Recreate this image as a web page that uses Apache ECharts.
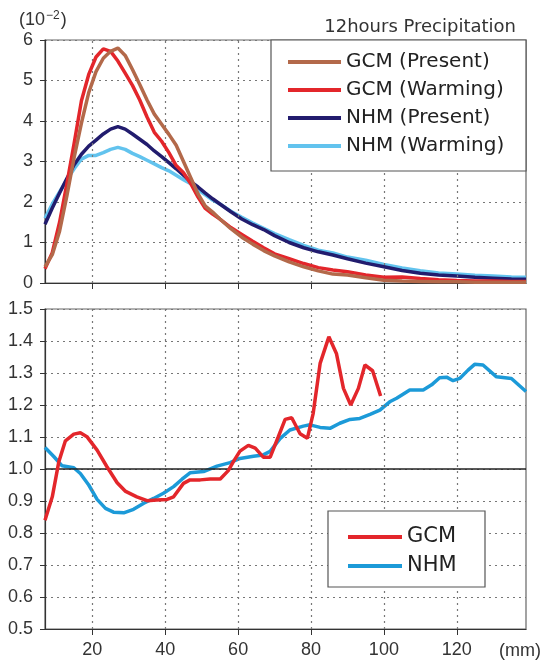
<!DOCTYPE html>
<html>
<head>
<meta charset="utf-8">
<script src="https://cdn.jsdelivr.net/npm/echarts@6/dist/echarts.min.js"></script>
<style>
  html, body { margin: 0; padding: 0; background: #fff; }
  #chart { width: 547px; height: 664px; }
</style>
</head>
<body>
<div id="chart"></div>
<script>
// upper panel: frequency (x10^-2) against 12h precipitation (mm)
const topX = [7, 9, 11, 13, 15, 17, 19, 21, 23, 25, 27, 29, 31, 33, 35, 37, 39, 41, 43, 45, 47, 49, 51, 53, 55,
  58, 61, 64, 67, 70, 74, 78, 82, 86, 90, 95, 100, 105, 110, 115, 120, 125, 130, 135, 139];
const gcmPresent = [0.4, 0.7, 1.28, 2.15, 3.1, 3.95, 4.7, 5.22, 5.55, 5.72, 5.8, 5.62, 5.27, 4.9, 4.52, 4.17, 3.92, 3.67, 3.4, 3.0, 2.6, 2.2, 1.9, 1.75, 1.58,
  1.34, 1.13, 0.96, 0.8, 0.67, 0.52, 0.4, 0.3, 0.22, 0.2, 0.13, 0.07, 0.05, 0.04, 0.03, 0.03, 0.02, 0.02, 0.02, 0.02];
const gcmWarming = [0.35, 0.75, 1.5, 2.45, 3.45, 4.5, 5.15, 5.58, 5.78, 5.72, 5.48, 5.18, 4.88, 4.52, 4.1, 3.72, 3.5, 3.22, 2.9, 2.72, 2.45, 2.12, 1.84, 1.7, 1.58,
  1.37, 1.2, 1.03, 0.87, 0.72, 0.6, 0.48, 0.38, 0.32, 0.28, 0.2, 0.14, 0.15, 0.11, 0.08, 0.06, 0.05, 0.05, 0.04, 0.04];
const nhmPresent = [1.45, 1.85, 2.22, 2.58, 2.92, 3.18, 3.38, 3.53, 3.68, 3.8, 3.86, 3.8, 3.68, 3.55, 3.42, 3.26, 3.12, 2.97, 2.82, 2.66, 2.5, 2.37, 2.22, 2.08, 1.95,
  1.76, 1.58, 1.44, 1.32, 1.17, 1.0, 0.87, 0.77, 0.69, 0.6, 0.49, 0.4, 0.31, 0.24, 0.2, 0.17, 0.14, 0.12, 0.1, 0.09];
const nhmWarming = [1.6, 1.95, 2.25, 2.55, 2.82, 3.06, 3.15, 3.15, 3.22, 3.3, 3.35, 3.3, 3.2, 3.12, 3.03, 2.94, 2.85, 2.77, 2.66, 2.55, 2.45, 2.3, 2.18, 2.05, 1.95,
  1.77, 1.62, 1.48, 1.35, 1.22, 1.07, 0.93, 0.81, 0.74, 0.64, 0.56, 0.46, 0.37, 0.3, 0.25, 0.22, 0.19, 0.17, 0.15, 0.14];

// lower panel: ratio warming / present
const ratioGcmX = [7, 9, 10.8, 12.6, 14.9, 16.7, 18.5, 21.3, 24, 26.8, 29, 32.2, 35, 37.7, 40.5, 42.3, 45, 46.8, 49.6, 52.3, 55.1, 57.3, 58.7,
  60.5, 62.8, 64.7, 66.9, 68.8, 71, 72.9, 74.7, 77, 79, 80.6, 82.5, 84.9, 87, 88.9, 90.9, 93, 94.8, 96.9, 99.1];
const ratioGcm = [0.84, 0.913, 1.023, 1.088, 1.109, 1.113, 1.101, 1.059, 1.007, 0.957, 0.931, 0.913, 0.901, 0.903, 0.905, 0.913, 0.955, 0.966, 0.966, 0.969, 0.969, 0.995, 1.023,
  1.056, 1.074, 1.065, 1.037, 1.037, 1.10, 1.155, 1.16, 1.11, 1.096, 1.174, 1.33, 1.413, 1.36, 1.252, 1.20, 1.252, 1.325, 1.307, 1.228];
const ratioNhmX = [7, 9.4, 11.7, 14.9, 16.7, 19, 21.3, 23.6, 25.8, 28.6, 31.3, 34.1, 36.8, 39.5, 42.3, 44.6, 46.8, 50.5, 54.2, 57.8, 60.5, 64.2, 66.9,
  68.8, 71.5, 74.2, 77.9, 79.7, 82.5, 85.2, 87.9, 90.7, 93.4, 96.2, 98.9, 101.6, 103.5, 107.1, 110.8, 113.1, 115.3, 117.2, 119, 120.8, 123.1,
  124.9, 127.2, 130.9, 135, 139];
const ratioNhm = [1.067, 1.039, 1.01, 1.004, 0.986, 0.95, 0.905, 0.877, 0.865, 0.863, 0.874, 0.893, 0.908, 0.924, 0.945, 0.968, 0.988, 0.992, 1.009, 1.02, 1.033, 1.04, 1.044,
  1.055, 1.095, 1.122, 1.134, 1.138, 1.13, 1.127, 1.143, 1.155, 1.158, 1.171, 1.184, 1.21, 1.221, 1.247, 1.247, 1.263, 1.285, 1.287, 1.276, 1.283, 1.309,
  1.327, 1.325, 1.288, 1.283, 1.242];

const xTicks = [20, 40, 60, 80, 100, 120];
const topLegend = ['GCM (Present)', 'GCM (Warming)', 'NHM (Present)', 'NHM (Warming)'];
const bottomLegend = ['GCM', 'NHM'];

const pairs = (xs, ys) => xs.map((x, i) => [x, ys[i]]);

const tickFont = 'Liberation Sans';
const legendFont = 'DejaVu Sans';
const dotted = { color: '#777', type: [2, 4], width: 1.2 };

function xAxisOf(grid, labels) {
  return {
    type: 'value', gridIndex: grid, min: 7, max: 139,
    axisLine: { lineStyle: { color: '#333', width: 1.2 } },
    axisTick: { show: true, customValues: xTicks, length: 6, lineStyle: { color: '#333' } },
    axisLabel: { show: labels, customValues: xTicks, fontFamily: tickFont, fontSize: 18, color: '#333', margin: 12 },
    splitLine: { show: false }
  };
}

function yAxisOf(grid, min, max, step, fmt) {
  return {
    type: 'value', gridIndex: grid, min: min, max: max, interval: step,
    axisLine: { show: true, lineStyle: { color: '#333', width: 1.2 } },
    axisTick: { show: true, length: 5, lineStyle: { color: '#333' } },
    axisLabel: { fontFamily: tickFont, fontSize: 18, color: '#333', margin: 12, formatter: fmt },
    splitLine: { show: true, lineStyle: dotted }
  };
}

function curve(name, grid, data, color, z, extra) {
  return Object.assign({
    name: name, type: 'line', xAxisIndex: grid, yAxisIndex: grid,
    data: data, showSymbol: false, symbol: 'none', z: z,
    lineStyle: { color: color, width: 3.5 }, itemStyle: { color: color }
  }, extra || {});
}

// vertical dotted grid lines at the x ticks
const vGrid = {
  markLine: {
    silent: true, symbol: 'none', label: { show: false }, animation: false,
    lineStyle: dotted,
    data: xTicks.map(v => ({ xAxis: v }))
  }
};

const baseLine = {
  markLine: {
    silent: true, symbol: 'none', label: { show: false }, animation: false,
    lineStyle: { color: '#222', width: 1.5, type: 'solid' },
    data: xTicks.map(v => ({ xAxis: v, lineStyle: dotted })).concat([{ yAxis: 1.0 }])
  }
};

const chart = echarts.init(document.getElementById('chart'));
chart.setOption({
  animation: false,
  backgroundColor: '#fff',
  grid: [
    { left: 45, right: 21, top: 40, height: 243, show: true, borderColor: '#666', borderWidth: 1.2 },
    { left: 45, right: 21, top: 309, height: 320, show: true, borderColor: '#666', borderWidth: 1.2 }
  ],
  xAxis: [xAxisOf(0, false), xAxisOf(1, true)],
  yAxis: [
    yAxisOf(0, 0, 6, 1, v => String(v)),
    yAxisOf(1, 0.5, 1.5, 0.1, v => v.toFixed(1))
  ],
  legend: [
    {
      data: topLegend, orient: 'vertical', left: 288, top: 51, padding: 0,
      icon: 'rect', itemWidth: 53, itemHeight: 4, itemGap: 6, z: 20,
      textStyle: { fontFamily: legendFont, fontSize: 20, color: '#222', lineHeight: 22 }
    },
    {
      data: bottomLegend, orient: 'vertical', left: 348, top: 526, padding: 0,
      icon: 'rect', itemWidth: 54, itemHeight: 4, itemGap: 7, z: 20,
      textStyle: { fontFamily: legendFont, fontSize: 21, color: '#222', lineHeight: 22 }
    }
  ],
  graphic: [
    { type: 'rect', z: 10, shape: { x: 271, y: 40, width: 255, height: 131 },
      style: { fill: '#fff', stroke: '#555', lineWidth: 1.2 } },
    { type: 'rect', z: 10, shape: { x: 328, y: 511, width: 157, height: 76 },
      style: { fill: '#fff', stroke: '#555', lineWidth: 1.2 } },
    { type: 'text', z: 10, x: 516, y: 27,
      style: { text: '12hours Precipitation', align: 'right', verticalAlign: 'middle',
        font: '18px "DejaVu Sans"', fill: '#333' } },
    { type: 'text', z: 10, x: 19, y: 20,
      style: { text: '{a|(10}{b|−2}{a|)}', verticalAlign: 'middle', fill: '#333',
        rich: {
          a: { fontFamily: tickFont, fontSize: 18, color: '#333' },
          b: { fontFamily: tickFont, fontSize: 12, color: '#333', padding: [0, 1, 9, 1] }
        } } },
    { type: 'text', z: 10, x: 499, y: 651,
      style: { text: '(mm)', verticalAlign: 'middle', font: '18px "Liberation Sans"', fill: '#333' } }
  ],
  series: [
    curve('NHM (Warming)', 0, pairs(topX, nhmWarming), '#62c3ee', 3, vGrid),
    curve('NHM (Present)', 0, pairs(topX, nhmPresent), '#221c6e', 4),
    curve('GCM (Warming)', 0, pairs(topX, gcmWarming), '#e3262b', 5),
    curve('GCM (Present)', 0, pairs(topX, gcmPresent), '#b3694a', 6),
    curve('NHM', 1, pairs(ratioNhmX, ratioNhm), '#1c9ad8', 4, baseLine),
    curve('GCM', 1, pairs(ratioGcmX, ratioGcm), '#e3262b', 5)
  ]
});
</script>
</body>
</html>
